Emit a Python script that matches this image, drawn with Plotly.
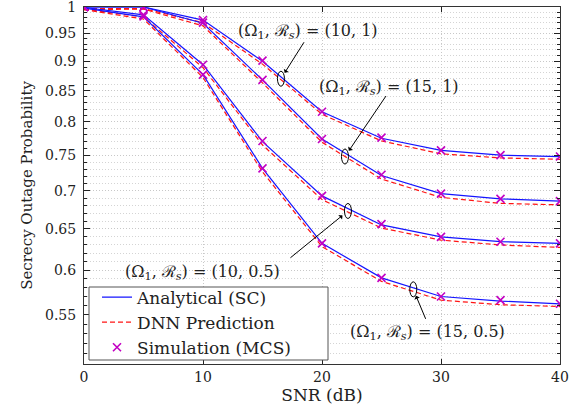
import numpy as np
import plotly.graph_objects as go

# ---------------- data ----------------
snr = [0, 5, 10, 15, 20, 25, 30, 35, 40]

ana_10_1 = [1.000, 1.000, 0.975, 0.900, 0.816, 0.775, 0.757, 0.750, 0.748]
dnn_10_1 = [0.997, 0.997, 0.970, 0.895, 0.812, 0.771, 0.752, 0.746, 0.744]
sim_10_1 = [1.000, 1.000, 0.975, 0.901, 0.816, 0.776, 0.757, 0.750, 0.748]

ana_15_1 = [1.000, 1.000, 0.969, 0.868, 0.774, 0.721, 0.696, 0.689, 0.686]
dnn_15_1 = [0.995, 0.996, 0.964, 0.863, 0.769, 0.716, 0.691, 0.683, 0.681]
sim_15_1 = [1.000, 1.000, 0.970, 0.868, 0.774, 0.722, 0.696, 0.689, 0.686]

ana_10_05 = [0.999, 0.985, 0.894, 0.770, 0.693, 0.655, 0.640, 0.634, 0.632]
dnn_10_05 = [0.996, 0.981, 0.889, 0.765, 0.688, 0.651, 0.636, 0.630, 0.627]
sim_10_05 = [1.000, 0.985, 0.894, 0.771, 0.693, 0.656, 0.640, 0.634, 0.632]

ana_15_05 = [0.998, 0.981, 0.877, 0.731, 0.632, 0.591, 0.570, 0.565, 0.562]
dnn_15_05 = [0.995, 0.977, 0.872, 0.726, 0.628, 0.587, 0.566, 0.561, 0.559]
sim_15_05 = [1.000, 0.982, 0.877, 0.731, 0.632, 0.591, 0.570, 0.566, 0.562]

y_ticks = [0.55, 0.6, 0.65, 0.7, 0.75, 0.8, 0.85, 0.9, 0.95, 1.0]
y_ticktext = ["0.55", "0.6", "0.65", "0.7", "0.75", "0.8", "0.85", "0.9", "0.95", "1"]
x_ticks = [0, 10, 20, 30, 40]

labels = ["(Ω<sub>1</sub>, ℛ<sub><i>s</i></sub>) = (10, 1)",
          "(Ω<sub>1</sub>, ℛ<sub><i>s</i></sub>) = (15, 1)",
          "(Ω<sub>1</sub>, ℛ<sub><i>s</i></sub>) = (10, 0.5)",
          "(Ω<sub>1</sub>, ℛ<sub><i>s</i></sub>) = (15, 0.5)"]
# ellipse markers (x in dB, y in probability) where each label points
mark_x = [16.55, 21.93, 22.18, 27.67]
mark_y = [0.870, 0.748, 0.673, 0.578]

# ---------------- geometry ----------------
W, H = 582, 408
L, R, T, B = 84, 22, 7, 44
PW, PH = W - L - R, H - T - B
Y_LO, Y_HI = np.log10(0.5), 0.0

def pxx(px):
    return (px - L) / PW

def pxy(py):
    return (H - B - py) / PH

def val_to_paper_y(v):
    return (np.log10(v) - Y_LO) / (Y_HI - Y_LO)

FONT = "DejaVu Serif"
BLUE = "rgb(20,20,255)"
RED = "rgb(255,20,20)"
MAG = "rgb(195,0,195)"

fig = go.Figure()
groups = [(ana_10_1, dnn_10_1, sim_10_1), (ana_15_1, dnn_15_1, sim_15_1),
          (ana_10_05, dnn_10_05, sim_10_05), (ana_15_05, dnn_15_05, sim_15_05)]
for i, (a, d, s) in enumerate(groups):
    first = i == 0
    fig.add_trace(go.Scatter(x=snr, y=a, mode="lines", name="Analytical (SC)",
                             line=dict(color=BLUE, width=1.2), showlegend=first,
                             legendrank=1))
    fig.add_trace(go.Scatter(x=snr, y=d, mode="lines", name="DNN Prediction",
                             line=dict(color=RED, width=1.2, dash="5px,3px"),
                             showlegend=first, legendrank=2))
for i, (a, d, s) in enumerate(groups):
    fig.add_trace(go.Scatter(x=snr, y=s, mode="markers", name="Simulation (MCS)",
                             marker=dict(symbol="x-thin", size=8, color=MAG,
                                         line=dict(color=MAG, width=1.6)),
                             showlegend=(i == 0), legendrank=3))

shapes = []
for mx, my in zip(mark_x, mark_y):
    shapes.append(dict(type="circle", xref="x", yref="paper", xsizemode="pixel",
                       ysizemode="pixel", xanchor=mx,
                       yanchor=float(val_to_paper_y(my)),
                       x0=-3.5, x1=3.5, y0=-7.5, y1=7.5,
                       line=dict(color="black", width=1)))
# legend box
shapes.append(dict(type="rect", xref="paper", yref="paper", layer="above",
                   x0=pxx(89), x1=pxx(328), y0=pxy(360), y1=pxy(287),
                   fillcolor="white", line=dict(color="#555555", width=1)))

annotations = []
# arrow tails offsets (pixels) relative to ellipse centres
tails = [(24, -38), (42, -62), (-59, 48), (13, 31)]
for mx, my, (ax, ay) in zip(mark_x, mark_y, tails):
    annotations.append(dict(x=mx, y=np.log10(my), xref="x", yref="y", text="",
                            showarrow=True, ax=ax, ay=ay, arrowhead=1,
                            arrowsize=1, arrowwidth=1, arrowcolor="black",
                            standoff=7))
text_pos = [(308, 32), (389, 87), (202, 272), (427, 332)]
for lab, (tx, ty) in zip(labels, text_pos):
    annotations.append(dict(x=pxx(tx), y=pxy(ty), xref="paper", yref="paper",
                            text=lab, showarrow=False, xanchor="center",
                            yanchor="middle",
                            font=dict(family=FONT, size=16, color="#222")))

minor_y = [round(v, 2) for v in np.arange(0.51, 1.0, 0.01)
           if abs(round(v, 2) * 20 - round(round(v, 2) * 20)) > 1e-6]

fig.update_layout(
    width=W, height=H,
    margin=dict(l=L, r=R, t=T, b=B, autoexpand=False),
    paper_bgcolor="white", plot_bgcolor="white",
    font=dict(family=FONT, size=14, color="#222"),
    shapes=shapes, annotations=annotations,
    legend=dict(x=pxx(97), y=pxy(279.5), xanchor="left", yanchor="top",
                bgcolor="rgba(0,0,0,0)", borderwidth=0,
                font=dict(family=FONT, size=17, color="#222"),
                traceorder="normal"),
    xaxis=dict(range=[0, 40], tickvals=x_ticks, ticks="inside", ticklen=5,
               tickcolor="#222", showline=True, linecolor="#333", linewidth=1,
               mirror="ticks", showgrid=True, gridcolor="#c8c8c8",
               griddash="1px,2px", gridwidth=1, zeroline=False,
               tickfont=dict(family=FONT, size=14),
               title=dict(text="SNR (dB)", font=dict(family=FONT, size=17),
                          standoff=2)),
    yaxis=dict(type="log", range=[Y_LO, Y_HI], tickvals=y_ticks,
               ticktext=y_ticktext, ticks="inside", ticklen=6,
               tickcolor="#222", showline=True, linecolor="#333", linewidth=1,
               mirror="ticks", showgrid=True, gridcolor="#c8c8c8",
               griddash="1px,2px", gridwidth=1, zeroline=False,
               tickfont=dict(family=FONT, size=14), ticklabelstandoff=4,
               ticklabeloverflow="allow",
               minor=dict(tickvals=minor_y, ticks="inside", ticklen=3,
                          tickcolor="#222", showgrid=True, gridcolor="#d4d4d4",
                          griddash="1px,2px", gridwidth=1),
               title=dict(text="Secrecy Outage Probability",
                          font=dict(family=FONT, size=15), standoff=8)),
)

fig.write_html("out.html", config={"displayModeBar": False},
               post_script="document.body.style.margin='0';"
                           "document.body.style.overflow='hidden';")
